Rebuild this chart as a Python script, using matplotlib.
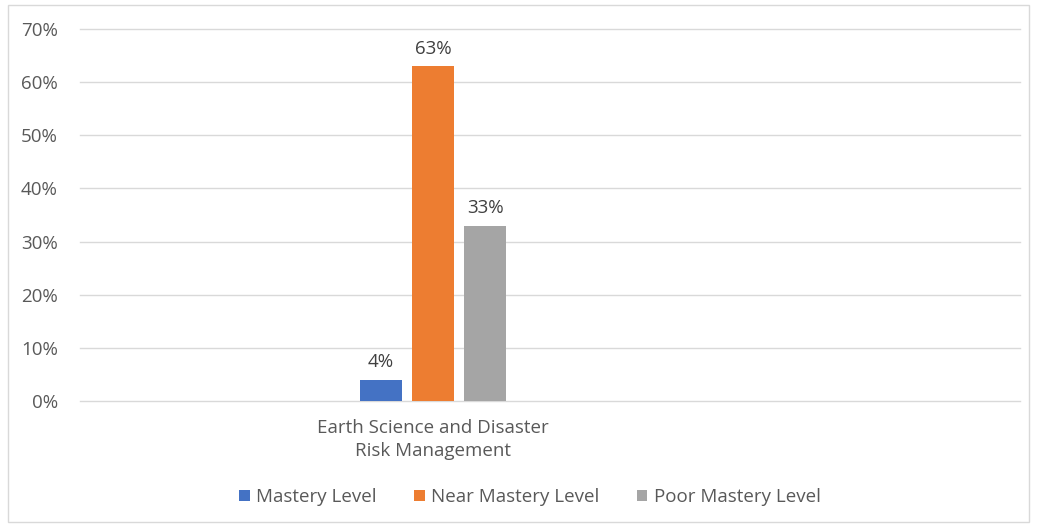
import matplotlib.pyplot as plt
from matplotlib.patches import Rectangle
from matplotlib.ticker import PercentFormatter

category = "Earth Science and Disaster\nRisk Management"
series = ["Mastery Level", "Near Mastery Level", "Poor Mastery Level"]
values = [0.04, 0.63, 0.33]
colors = ["#4472C4", "#ED7D31", "#A5A5A5"]
yticks = [0, 0.1, 0.2, 0.3, 0.4, 0.5, 0.6, 0.7]

plt.rcParams["font.family"] = ["Open Sans", "DejaVu Sans"]

W, H = 1037, 527
fig = plt.figure(figsize=(W / 100, H / 100), dpi=100)

# outer chart border like Excel
fig.patches.append(Rectangle((8 / W, 5 / H), (W - 16) / W, (H - 10) / H,
                             transform=fig.transFigure, fill=False,
                             edgecolor="#D9D9D9", linewidth=1))

ax = fig.add_axes([80 / W, 1 - 401 / H, 940 / W, 372 / H])

fs = 13.5
offsets = [-1, 0, 1]
for off, val, col, name in zip(offsets, values, colors, series):
    bar = ax.bar(off, val, width=0.79, color=col, label=name, zorder=3)
    ax.bar_label(bar, labels=[f"{val:.0%}"], padding=6, fontsize=fs,
                 color="#404040")

ax.set_xlim(-6.79, 11.29)
ax.set_ylim(0, 0.7)
ax.set_yticks(yticks)
ax.yaxis.set_major_formatter(PercentFormatter(1.0, decimals=0))
ax.set_xticks([0])
ax.set_xticklabels([category], fontsize=fs, color="#595959",
                   linespacing=1.35)
ax.tick_params(axis="both", length=0, labelsize=fs, labelcolor="#595959")
ax.tick_params(axis="x", pad=13)
ax.tick_params(axis="y", pad=16)
ax.grid(axis="y", color="#D9D9D9", linewidth=1, zorder=0)
for gl in ax.get_ygridlines():
    gl.set_clip_on(False)
for s in ax.spines.values():
    s.set_visible(False)

fig.legend(loc="center", bbox_to_anchor=(530 / W, 1 - 497 / H), ncol=3,
           frameon=False, fontsize=fs, labelcolor="#595959",
           handlelength=0.55, handleheight=0.55, handletextpad=0.35,
           columnspacing=2.0)

fig.savefig("out.png", dpi=100)
